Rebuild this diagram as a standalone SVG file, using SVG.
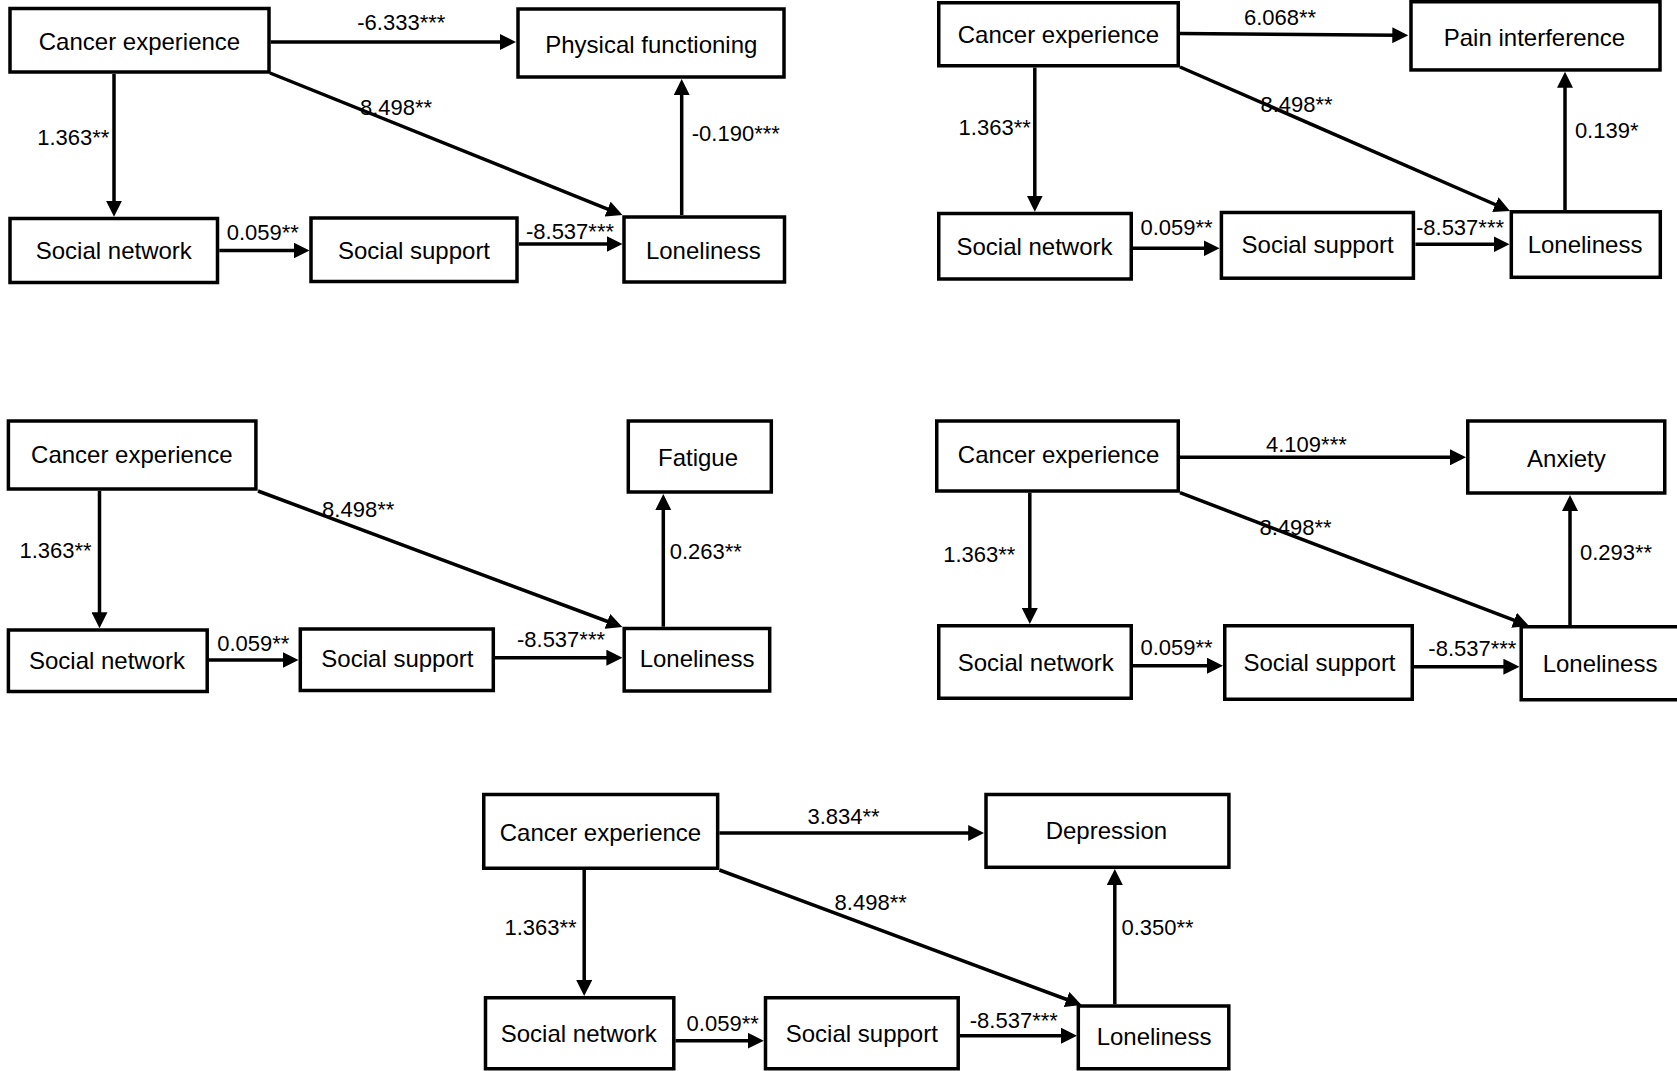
<svg xmlns="http://www.w3.org/2000/svg" width="1677" height="1071" viewBox="0 0 1677 1071">
<style>
.box{fill:#fff;stroke:#000;stroke-width:3.5}
.nl{font-family:"Liberation Sans",Arial,sans-serif;font-size:24px;text-anchor:middle;fill:#000}
.el{font-family:"Liberation Sans",Arial,sans-serif;font-size:22px;text-anchor:middle;fill:#000}
.ar{fill:none;stroke:#000;stroke-width:3.5;marker-end:url(#ah)}
</style>
<defs>
<marker id="ah" viewBox="0 0 16 16" markerUnits="userSpaceOnUse" markerWidth="16" markerHeight="16" refX="6" refY="8" orient="auto">
<path d="M0,0 L16,8 L0,16 z" fill="#000"/>
</marker>
</defs>
<rect width="1677" height="1071" fill="#fff"/>

<g id="connectors">
<!-- D1 -->
<path class="ar" d="M270.7,42 L506,42"/>
<path class="ar" d="M114,74 L114,206.7"/>
<path class="ar" d="M270,73 L613.2,211.3"/>
<path class="ar" d="M219.3,250.5 L299.5,250.5"/>
<path class="ar" d="M519,244 L612.5,244"/>
<path class="ar" d="M681.7,215 L681.7,89"/>
<!-- D2 -->
<path class="ar" d="M1180,33.5 L1398.3,35.2"/>
<path class="ar" d="M1034.8,67.5 L1034.8,201.7"/>
<path class="ar" d="M1180,67 L1500.8,207"/>
<path class="ar" d="M1133,248.3 L1209.6,248.3"/>
<path class="ar" d="M1415.4,244.3 L1499.5,244.3"/>
<path class="ar" d="M1565,210 L1565,81.7"/>
<!-- D3 -->
<path class="ar" d="M99.5,490.7 L99.5,618.3"/>
<path class="ar" d="M258,491 L613,623.5"/>
<path class="ar" d="M209,660 L288.5,660"/>
<path class="ar" d="M491,657.7 L612.4,657.7"/>
<path class="ar" d="M663.3,626.7 L663.3,504"/>
<!-- D4 -->
<path class="ar" d="M1180,457.3 L1456,457.3"/>
<path class="ar" d="M1029.8,492.7 L1029.8,614"/>
<path class="ar" d="M1180,492.7 L1519.7,622.4"/>
<path class="ar" d="M1130,665.7 L1213,665.7"/>
<path class="ar" d="M1414,666.7 L1509.4,666.7"/>
<path class="ar" d="M1570,625 L1570,505"/>
<!-- D5 -->
<path class="ar" d="M719.4,833 L974.2,833"/>
<path class="ar" d="M584.2,870 L584.2,986"/>
<path class="ar" d="M719.4,870 L1072.2,1001.5"/>
<path class="ar" d="M675.5,1040.7 L753.8,1040.7"/>
<path class="ar" d="M960,1035.7 L1067,1035.7"/>
<path class="ar" d="M1114.8,1004.3 L1114.8,879"/>
</g>

<g id="edge-labels">
<text class="el" x="401.3" y="30">-6.333***</text>
<text class="el" x="396" y="115">8.498**</text>
<text class="el" x="73.3" y="145">1.363**</text>
<text class="el" x="262.8" y="240">0.059**</text>
<text class="el" x="570" y="239.3">-8.537***</text>
<text class="el" x="735.8" y="141">-0.190***</text>

<text class="el" x="1280" y="25">6.068**</text>
<text class="el" x="994.7" y="135">1.363**</text>
<text class="el" x="1296.5" y="111.7">8.498**</text>
<text class="el" x="1176.5" y="235">0.059**</text>
<text class="el" x="1460" y="235">-8.537***</text>
<text class="el" x="1606.7" y="138.3">0.139*</text>

<text class="el" x="55.6" y="558.3">1.363**</text>
<text class="el" x="358.2" y="517.3">8.498**</text>
<text class="el" x="253.3" y="650.7">0.059**</text>
<text class="el" x="561" y="646.7">-8.537***</text>
<text class="el" x="705.8" y="559.3">0.263**</text>

<text class="el" x="1306.4" y="451.7">4.109***</text>
<text class="el" x="979.3" y="561.7">1.363**</text>
<text class="el" x="1295.5" y="535">8.498**</text>
<text class="el" x="1176.5" y="655">0.059**</text>
<text class="el" x="1472.4" y="656">-8.537***</text>
<text class="el" x="1616" y="560">0.293**</text>

<text class="el" x="843.5" y="824">3.834**</text>
<text class="el" x="540.6" y="935">1.363**</text>
<text class="el" x="870.7" y="910">8.498**</text>
<text class="el" x="722.7" y="1030.7">0.059**</text>
<text class="el" x="1013.8" y="1028.3">-8.537***</text>
<text class="el" x="1157.5" y="935">0.350**</text>
</g>

<!-- Diagram 1 -->
<g id="d1-cancer"><rect class="box" x="10" y="8.5" width="259" height="63.5"/><text class="nl" x="139.5" y="50">Cancer experience</text></g>
<g id="d1-physical"><rect class="box" x="518" y="9" width="266" height="68"/><text class="nl" x="651.3" y="52.5">Physical functioning</text></g>
<g id="d1-network"><rect class="box" x="10" y="218.5" width="207.5" height="64"/><text class="nl" x="113.8" y="259.3">Social network</text></g>
<g id="d1-support"><rect class="box" x="311" y="218" width="206" height="63.5"/><text class="nl" x="414" y="258.5">Social support</text></g>
<g id="d1-loneliness"><rect class="box" x="624" y="217" width="160.5" height="65"/><text class="nl" x="703.3" y="259.3">Loneliness</text></g>

<!-- Diagram 2 -->
<g id="d2-cancer"><rect class="box" x="938.75" y="2.75" width="239.5" height="63"/><text class="nl" x="1058.5" y="43.3">Cancer experience</text></g>
<g id="d2-pain"><rect class="box" x="1411" y="1.75" width="249" height="68.2"/><text class="nl" x="1534.5" y="45.7">Pain interference</text></g>
<g id="d2-network"><rect class="box" x="938.75" y="213.5" width="192.5" height="65.5"/><text class="nl" x="1034.5" y="255">Social network</text></g>
<g id="d2-support"><rect class="box" x="1221.4" y="212.5" width="192" height="65.7"/><text class="nl" x="1317.6" y="253.3">Social support</text></g>
<g id="d2-loneliness"><rect class="box" x="1511.3" y="211.8" width="149" height="65.5"/><text class="nl" x="1585" y="253.3">Loneliness</text></g>

<!-- Diagram 3 -->
<g id="d3-cancer"><rect class="box" x="8.4" y="421" width="247.5" height="68"/><text class="nl" x="131.8" y="463.3">Cancer experience</text></g>
<g id="d3-fatigue"><rect class="box" x="628.3" y="421" width="143" height="71"/><text class="nl" x="698" y="465.7">Fatigue</text></g>
<g id="d3-network"><rect class="box" x="8.4" y="630" width="198.8" height="61.5"/><text class="nl" x="107" y="669.3">Social network</text></g>
<g id="d3-support"><rect class="box" x="300.3" y="629" width="193" height="61.5"/><text class="nl" x="397.4" y="666.7">Social support</text></g>
<g id="d3-loneliness"><rect class="box" x="624.2" y="628.5" width="145.5" height="62.5"/><text class="nl" x="697" y="666.7">Loneliness</text></g>

<!-- Diagram 4 -->
<g id="d4-cancer"><rect class="box" x="936.75" y="421" width="241.5" height="70"/><text class="nl" x="1058.6" y="463.3">Cancer experience</text></g>
<g id="d4-anxiety"><rect class="box" x="1467.75" y="421" width="197" height="72"/><text class="nl" x="1566.4" y="466.7">Anxiety</text></g>
<g id="d4-network"><rect class="box" x="938.75" y="625.75" width="192.5" height="72.5"/><text class="nl" x="1035.8" y="670.7">Social network</text></g>
<g id="d4-support"><rect class="box" x="1224.75" y="625.75" width="187.5" height="73.5"/><text class="nl" x="1319.5" y="670.7">Social support</text></g>
<g id="d4-loneliness"><rect class="box" x="1521.2" y="626.75" width="160" height="73"/><text class="nl" x="1600" y="671.7">Loneliness</text></g>

<!-- Diagram 5 -->
<g id="d5-cancer"><rect class="box" x="483.75" y="794.5" width="233.9" height="73.75"/><text class="nl" x="600.5" y="840.7">Cancer experience</text></g>
<g id="d5-depression"><rect class="box" x="986" y="794.5" width="242.9" height="72.8"/><text class="nl" x="1106.4" y="839">Depression</text></g>
<g id="d5-network"><rect class="box" x="485.5" y="997.75" width="188.3" height="71"/><text class="nl" x="578.8" y="1041.7">Social network</text></g>
<g id="d5-support"><rect class="box" x="765.5" y="997.75" width="192.7" height="71"/><text class="nl" x="861.8" y="1041.7">Social support</text></g>
<g id="d5-loneliness"><rect class="box" x="1078.3" y="1006" width="150.5" height="62.75"/><text class="nl" x="1154" y="1045">Loneliness</text></g>
</svg>
